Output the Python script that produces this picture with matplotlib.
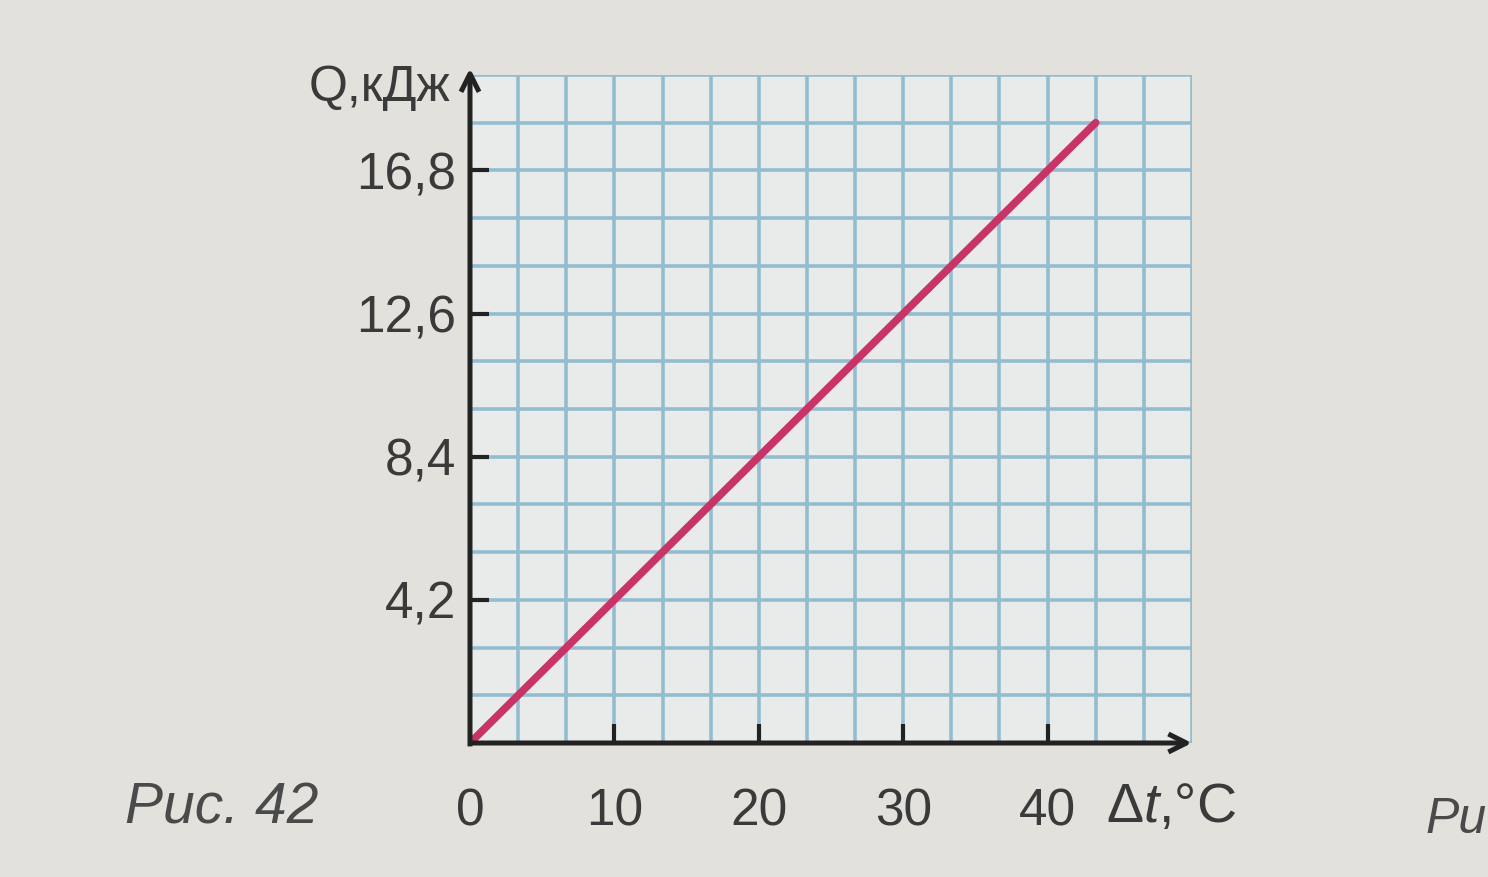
import numpy as np
import matplotlib.pyplot as plt
from matplotlib.ticker import FixedLocator

# data: Q = 0.42 * dt
dt = [0, 43.33]
Q = [0, 18.2]

x_ticks = [0, 10, 20, 30, 40]
x_labels = ["0", "10", "20", "30", "40"]
y_ticks = [4.2, 8.4, 12.6, 16.8]
y_labels = ["4,2", "8,4", "12,6", "16,8"]

plt.rcParams['font.family'] = ['Liberation Sans', 'DejaVu Sans']
plt.rcParams['mathtext.fontset'] = 'custom'
plt.rcParams['mathtext.rm'] = 'Liberation Sans'
plt.rcParams['mathtext.it'] = 'Liberation Sans:italic'


def main():
	fig = plt.figure(figsize=(14.88, 8.77), dpi=100, facecolor='#e3e1dc')
	ax = fig.add_axes([470/1488, 134/877, 722/1488, 668/877])
	ax.set_facecolor('#e9ebeb')
	ax.set_xlim(0, 50)
	ax.set_ylim(0, 19.6)

	# squared paper
	ax.xaxis.set_minor_locator(FixedLocator(np.linspace(0, 50, 16)))
	ax.yaxis.set_minor_locator(FixedLocator(np.linspace(0, 19.6, 15)))
	ax.grid(which='both', color='#94bcd0', lw=2.6, zorder=0)
	ax.set_axisbelow(True)
	ax.tick_params(which='minor', length=0)

	for s in ax.spines.values():
		s.set_visible(False)

	ax.set_xticks(x_ticks)
	ax.set_xticklabels(x_labels)
	ax.set_yticks(y_ticks)
	ax.set_yticklabels(y_labels)
	ax.tick_params(axis='x', direction='in', length=14, width=3, color='#222222',
				   pad=32, labelsize=37, labelcolor='#3a3a3a')
	ax.tick_params(axis='y', direction='in', length=14, width=3, color='#222222',
				   pad=10, labelsize=37, labelcolor='#3a3a3a')
	ax.get_xticklines()[0].set_visible(False)

	# axes with arrows
	arr = dict(arrowstyle='->,head_length=1.3,head_width=0.65', color='#222222',
			   lw=3.6, shrinkA=0, shrinkB=0, capstyle='butt')
	ax.annotate('', xy=(50, 0), xytext=(0, 0), arrowprops=arr,
				annotation_clip=False, zorder=5)
	ax.annotate('', xy=(0, 19.8), xytext=(0, -0.1), arrowprops=arr,
				annotation_clip=False, zorder=5)

	ax.plot(dt, Q, color='#c93467', lw=5.5, solid_capstyle='round', zorder=4)

	fig.text(450/1488, 1 - 88/877, "Q,кДж", fontsize=36, color='#3a3a3a',
			 ha='right', va='center')
	fig.text(1106/1488, 1 - 808/877, r"$\Delta\mathit{t}$,°C", fontsize=40,
			 color='#3a3a3a', ha='left', va='center')
	fig.text(125/1488, 1 - 808/877, "Рис. 42", fontsize=41, style='italic',
			 color='#4a4a4a', ha='left', va='center')
	fig.text(1487/1488, 1 - 820/877, "Ри", fontsize=36, style='italic',
			 color='#4a4a4a', ha='right', va='center')

	fig.savefig("out.png", dpi=100, facecolor=fig.get_facecolor())


if __name__ == '__main__':
	main()
